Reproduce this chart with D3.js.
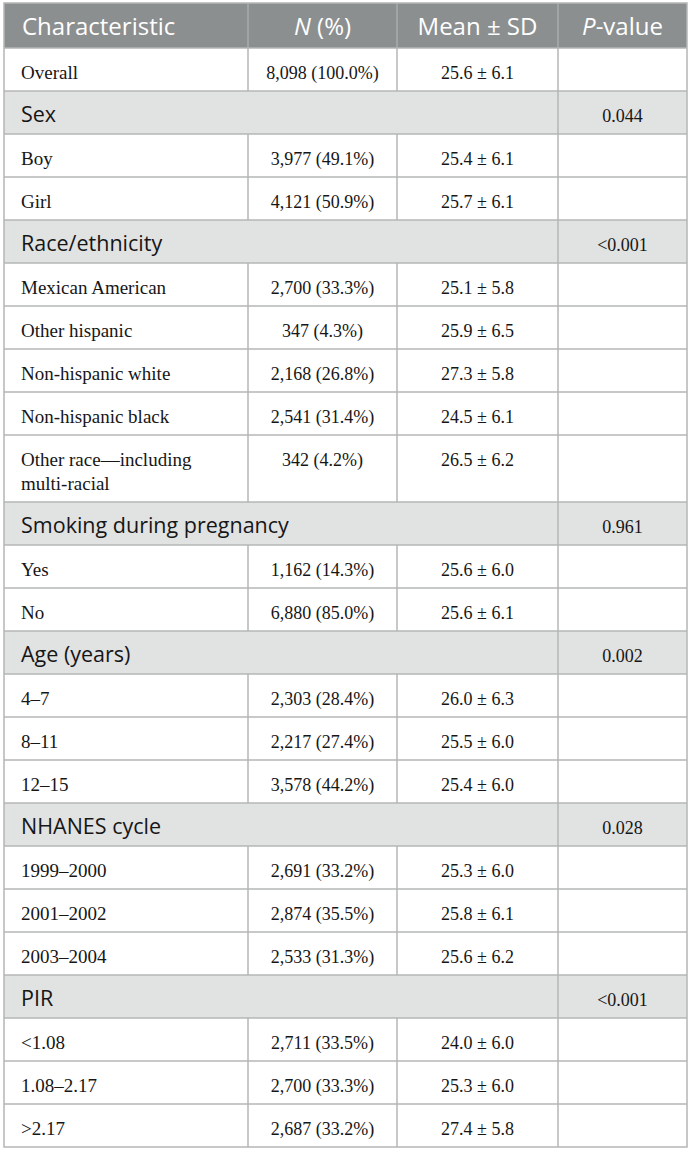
<!DOCTYPE html>
<html>
<head>
<meta charset="utf-8">
<script src="https://cdn.jsdelivr.net/npm/d3@7"></script>
<style>
  body { margin: 0; background: #fff; }
</style>
</head>
<body>
<svg id="chart" width="690" height="1152"></svg>
<script>
'use strict';

var headers = ["Characteristic", "N (%)", "Mean \u00b1 SD", "P-value"];

var overall = ["Overall", "8,098 (100.0%)", "25.6 \u00b1 6.1"];

var sections = ["Sex", "Race/ethnicity", "Smoking during pregnancy", "Age (years)", "NHANES cycle", "PIR"];
var pValues = ["0.044", "<0.001", "0.961", "0.002", "0.028", "<0.001"];

var levels = [
  ["Boy", "Girl"],
  ["Mexican American", "Other hispanic", "Non-hispanic white", "Non-hispanic black", "Other race\u2014including|multi-racial"],
  ["Yes", "No"],
  ["4\u20137", "8\u201311", "12\u201315"],
  ["1999\u20132000", "2001\u20132002", "2003\u20132004"],
  ["<1.08", "1.08\u20132.17", ">2.17"]
];
var counts = [
  ["3,977 (49.1%)", "4,121 (50.9%)"],
  ["2,700 (33.3%)", "347 (4.3%)", "2,168 (26.8%)", "2,541 (31.4%)", "342 (4.2%)"],
  ["1,162 (14.3%)", "6,880 (85.0%)"],
  ["2,303 (28.4%)", "2,217 (27.4%)", "3,578 (44.2%)"],
  ["2,691 (33.2%)", "2,874 (35.5%)", "2,533 (31.3%)"],
  ["2,711 (33.5%)", "2,700 (33.3%)", "2,687 (33.2%)"]
];
var means = [
  ["25.4 \u00b1 6.1", "25.7 \u00b1 6.1"],
  ["25.1 \u00b1 5.8", "25.9 \u00b1 6.5", "27.3 \u00b1 5.8", "24.5 \u00b1 6.1", "26.5 \u00b1 6.2"],
  ["25.6 \u00b1 6.0", "25.6 \u00b1 6.1"],
  ["26.0 \u00b1 6.3", "25.5 \u00b1 6.0", "25.4 \u00b1 6.0"],
  ["25.3 \u00b1 6.0", "25.8 \u00b1 6.1", "25.6 \u00b1 6.2"],
  ["24.0 \u00b1 6.0", "25.3 \u00b1 6.0", "27.4 \u00b1 5.8"]
];

// flatten into table rows
var rows = [{ type: "item", cells: overall.concat([""]) }];
sections.forEach(function (s, i) {
  rows.push({ type: "section", cells: [s, "", "", pValues[i]] });
  levels[i].forEach(function (l, j) {
    rows.push({ type: "item", cells: [l, counts[i][j], means[i][j], ""] });
  });
});

var svg = d3.select('#chart');
var tblLeft = 4, tblRight = 687, tblTop = 3;
var headH = 45, rowH = 43, lineH = 22;
var colEdges = [tblLeft, 248, 397, 558, tblRight];
var border = "#b4b6b6";
var ink = "#161616";
var serif = "'Liberation Serif', 'Times New Roman', serif";
var sans = "'Open Sans', 'Noto Sans', sans-serif";

// row heights and positions
var yPos = tblTop + headH;
rows.forEach(function (r) {
  r.lines = r.cells[0].split("|");
  r.h = rowH + (r.lines.length - 1) * (lineH + 2);
  r.y = yPos;
  yPos += r.h;
});
var tblBottom = yPos;

// header
var head = svg.append('g').attr('class', 'header');
head.append('rect')
  .attr('x', tblLeft).attr('y', tblTop)
  .attr('width', tblRight - tblLeft).attr('height', headH)
  .attr('fill', '#8c8f90');
head.selectAll('line')
  .data(colEdges.slice(1, 4))
  .enter()
  .append('line')
  .attr('x1', function (d) { return d; }).attr('x2', function (d) { return d; })
  .attr('y1', tblTop).attr('y2', tblTop + headH)
  .attr('stroke', '#a9acad').attr('stroke-width', 1.5);

var headText = head.selectAll('text')
  .data(headers)
  .enter()
  .append('text')
  .attr('x', function (d, i) { return i === 0 ? tblLeft + 18 : (colEdges[i] + colEdges[i + 1]) / 2; })
  .attr('y', tblTop + 32)
  .attr('text-anchor', function (d, i) { return i === 0 ? 'start' : 'middle'; })
  .attr('font-family', sans)
  .attr('font-size', 24)
  .attr('fill', '#fff');
headText.each(function (d) {
  var t = d3.select(this);
  if (d === "N (%)") {
    t.append('tspan').attr('font-style', 'italic').text("N");
    t.append('tspan').text(" (%)");
  } else if (d === "P-value") {
    t.append('tspan').attr('font-style', 'italic').text("P");
    t.append('tspan').text("-value");
  } else {
    t.text(d);
  }
});

// body rows
var body = svg.append('g').attr('class', 'body');
var row = body.selectAll('g.row')
  .data(rows)
  .enter()
  .append('g')
  .attr('class', 'row')
  .attr('transform', function (d) { return 'translate(0,' + d.y + ')'; });

row.append('rect')
  .attr('x', tblLeft).attr('y', 0)
  .attr('width', tblRight - tblLeft)
  .attr('height', function (d) { return d.h; })
  .attr('fill', function (d) { return d.type === 'section' ? '#e1e2e2' : '#fff'; });

// vertical dividers
row.each(function (d) {
  var g = d3.select(this);
  var xs = d.type === 'section' ? [colEdges[3]] : colEdges.slice(1, 4);
  g.selectAll('line.v')
    .data(xs)
    .enter()
    .append('line')
    .attr('class', 'v')
    .attr('x1', function (x) { return x; }).attr('x2', function (x) { return x; })
    .attr('y1', 0).attr('y2', d.h)
    .attr('stroke', border).attr('stroke-width', 1.5);
});

// horizontal line at top of each row
row.append('line')
  .attr('x1', tblLeft).attr('x2', tblRight)
  .attr('y1', 0).attr('y2', 0)
  .attr('stroke', border).attr('stroke-width', 1.5);

// first column labels
row.append('text')
  .attr('x', tblLeft + 17)
  .attr('y', 30.5)
  .attr('font-family', function (d) { return d.type === 'section' ? sans : serif; })
  .attr('font-size', function (d) { return d.type === 'section' ? 21.5 : 19; })
  .attr('fill', ink)
  .each(function (d) {
    var t = d3.select(this);
    d.lines.forEach(function (l, k) {
      t.append('tspan')
        .attr('x', tblLeft + 17)
        .attr('dy', k === 0 ? 0 : lineH + 2)
        .text(l);
    });
  });

// value columns
row.selectAll('text.val')
  .data(function (d) { return d.cells.slice(1).map(function (c, k) { return { col: k + 1, text: c }; }); })
  .enter()
  .filter(function (c) { return c.text !== ""; })
  .append('text')
  .attr('class', 'val')
  .attr('x', function (c) { return (colEdges[c.col] + colEdges[c.col + 1]) / 2; })
  .attr('y', 30.5)
  .attr('text-anchor', 'middle')
  .attr('font-family', serif)
  .attr('font-size', 18)
  .attr('fill', ink)
  .text(function (c) { return c.text; });

// outer border
svg.append('rect')
  .attr('x', tblLeft).attr('y', tblTop)
  .attr('width', tblRight - tblLeft).attr('height', tblBottom - tblTop)
  .attr('fill', 'none')
  .attr('stroke', border).attr('stroke-width', 1.5);
</script>
</body>
</html>
